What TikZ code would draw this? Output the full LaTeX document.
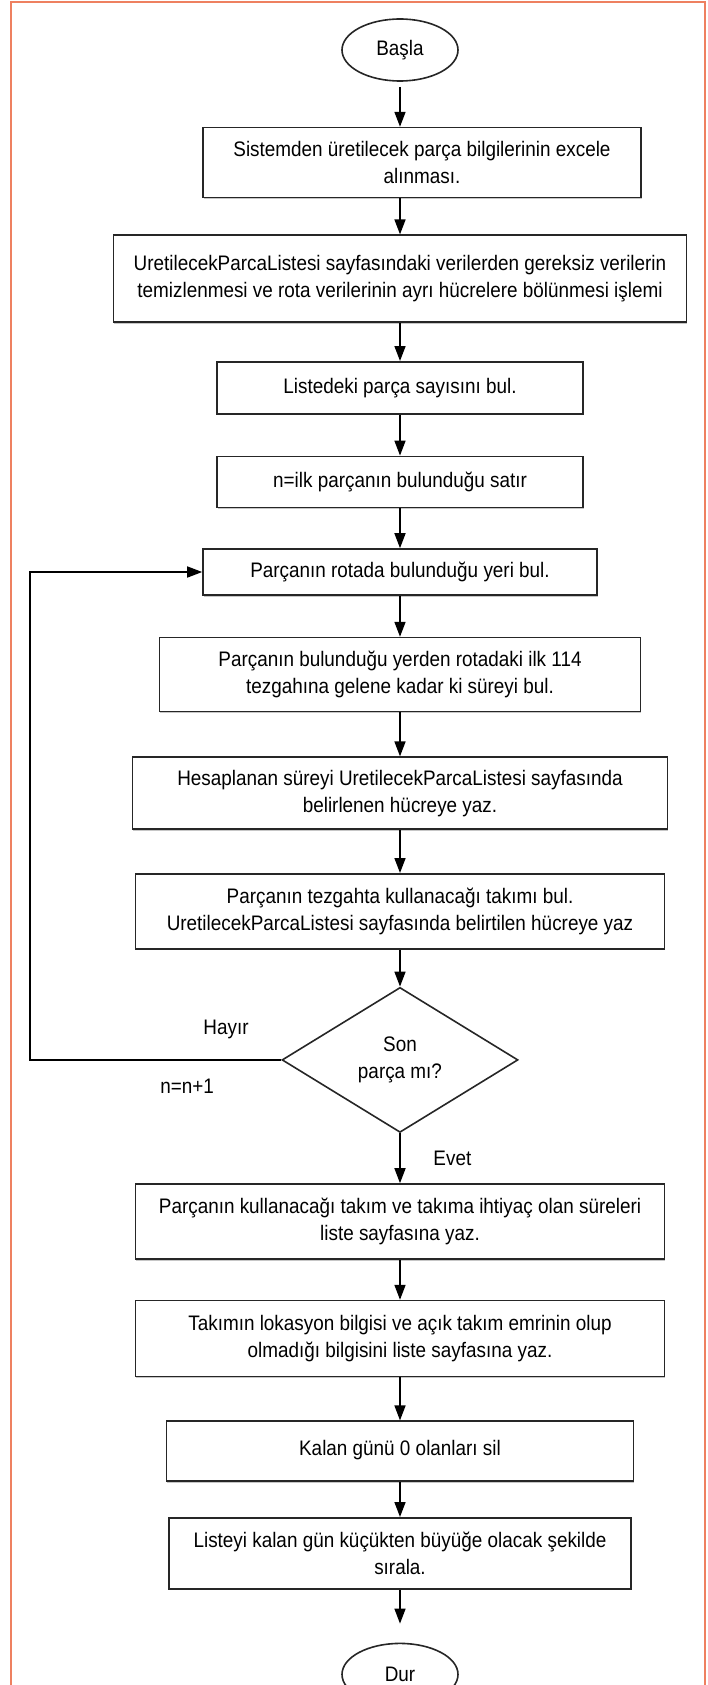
\documentclass[tikz,border=0pt]{standalone}
\usepackage{fontspec}
\setmainfont[FakeStretch=0.9]{Liberation Sans}
\usetikzlibrary{arrows.meta,positioning,shapes.geometric,shadows}

\definecolor{frameorange}{RGB}{238,128,96}

\begin{document}
\begin{tikzpicture}[->,>={Triangle[width=5.5pt,length=7.5pt]},x=0.5pt,y=-0.5pt,
                    line width=0.8pt,node distance=20pt,
                    font=\fontsize{10.5pt}{13.5pt}\selectfont]
  \tikzstyle{terminal}=[ellipse,draw=black!85,minimum width=58pt,minimum height=31pt,inner sep=0pt]
  \tikzstyle{process}=[rectangle,draw=black!85,fill=white,align=center,inner sep=2pt,
                       drop shadow={shadow xshift=0.4pt,shadow yshift=-0.8pt,opacity=0.45,fill=black!50}]
  \tikzstyle{decision}=[diamond,draw=black!85,align=center,aspect=1.63,
                        minimum width=118pt,minimum height=72.5pt,inner sep=0pt]

  \useasboundingbox (0,0) rectangle (707,1685);
  \draw[-,frameorange,line width=0.9pt] (11,1685) -- (11,2) -- (705,2) -- (705,1685);

  \node[terminal] (start) at (400,50) {Başla};
  \node[process,minimum width=219pt,minimum height=35pt] (b1) [below=22.5pt of start,xshift=11pt]
    {Sistemden üretilecek parça bilgilerinin excele\\alınması.};
  \node[process,minimum width=286.5pt,minimum height=43.5pt] (b2) [below=18pt of b1,xshift=-11pt]
    {UretilecekParcaListesi sayfasındaki verilerden gereksiz verilerin\\temizlenmesi ve rota verilerinin ayrı hücrelere bölünmesi işlemi};
  \node[process,minimum width=183pt,minimum height=26pt] (b3) [below=19pt of b2]
    {Listedeki parça sayısını bul.};
  \node[process,minimum width=183pt,minimum height=25.5pt] (b4) [below=20.5pt of b3]
    {n=ilk parçanın bulunduğu satır};
  \node[process,minimum width=197pt,minimum height=23pt] (b5) [below=20pt of b4]
    {Parçanın rotada bulunduğu yeri bul.};
  \node[process,minimum width=240.5pt,minimum height=37pt] (b6) [below=20.5pt of b5]
    {Parçanın bulunduğu yerden rotadaki ilk 114\\tezgahına gelene kadar ki süreyi bul.};
  \node[process,minimum width=267.5pt,minimum height=36pt] (b7) [below=22pt of b6]
    {Hesaplanan süreyi UretilecekParcaListesi sayfasında\\belirlenen hücreye yaz.};
  \node[process,minimum width=264.5pt,minimum height=37.5pt] (b8) [below=21.5pt of b7]
    {Parçanın tezgahta kullanacağı takımı bul.\\UretilecekParcaListesi sayfasında belirtilen hücreye yaz};
  \node[decision] (dec) [below=18.5pt of b8] {Son\\parça mı?};
  \node[process,minimum width=264.5pt,minimum height=37.5pt] (b9) [below=25pt of dec]
    {Parçanın kullanacağı takım ve takıma ihtiyaç olan süreleri\\liste sayfasına yaz.};
  \node[process,minimum width=264.5pt,minimum height=38pt] (b10) [below=20pt of b9]
    {Takımın lokasyon bilgisi ve açık takım emrinin olup\\olmadığı bilgisini liste sayfasına yaz.};
  \node[process,minimum width=233.5pt,minimum height=30pt] (b11) [below=21.5pt of b10]
    {\raisebox{3pt}{Kalan günü 0 olanları sil}};
  \node[process,minimum width=231pt,minimum height=35.5pt] (b12) [below=17.5pt of b11]
    {Listeyi kalan gün küçükten büyüğe olacak şekilde\\sırala.};
  \node[terminal] (stop) [below=26.5pt of b12] {Dur};

  \coordinate[left=125.5pt of dec.west] (back);

  \path (start) edge[shorten <=2.5pt] (start |- b1.north)
        (b1.south -| start) edge (b2)
        (b2) edge (b3)
        (b3) edge (b4)
        (b4) edge (b5)
        (b5) edge (b6)
        (b6) edge (b7)
        (b7) edge (b8)
        (b8) edge (dec)
        (dec) edge node[right=13pt] {Evet} (b9)
        (b9) edge (b10)
        (b10) edge (b11)
        (b11) edge (b12)
        (b12) edge[shorten >=9.5pt] (stop);
  % no: back to the route search
  \draw (dec.west) -- node[pos=0.22,above=7pt] {Hayır}
                      node[pos=0.375,below=6pt] {n=n+1} (back) |- (b5.west);
\end{tikzpicture}
\end{document}
